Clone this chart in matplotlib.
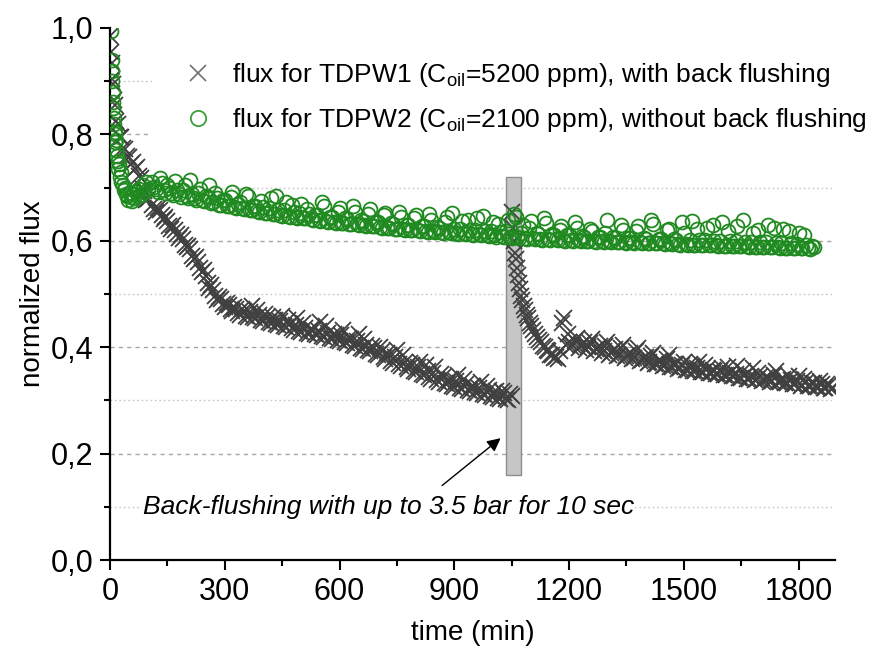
import numpy as np
import matplotlib
matplotlib.use("Agg")
import matplotlib.pyplot as plt
from matplotlib.patches import Rectangle
from matplotlib.lines import Line2D
from matplotlib.ticker import FuncFormatter, MultipleLocator

plt.rcParams['font.family'] = ['Liberation Sans', 'DejaVu Sans']
plt.rcParams['mathtext.default'] = 'regular'

# ---------------- data ----------------
# TDPW1 (with back flushing) - grey crosses
tdpw1_t_early = [0, 2, 4, 6, 8, 10, 13, 16, 20, 25, 30, 35, 40, 45, 50, 55, 60, 65,
                 70, 75, 80, 85, 90, 95, 100]
tdpw1_v_early = [0.985, 0.955, 0.935, 0.905, 0.895, 0.865, 0.855, 0.825, 0.82, 0.795,
                 0.795, 0.775, 0.772, 0.76, 0.758, 0.745, 0.748, 0.735, 0.738, 0.722,
                 0.718, 0.698, 0.694, 0.676, 0.678]
tdpw1_t_before = list(range(110, 1051, 10))
tdpw1_v_before = [0.668, 0.655, 0.658, 0.641, 0.638, 0.622, 0.621, 0.605, 0.603, 0.588,
                  0.584, 0.566, 0.561, 0.541, 0.533, 0.511, 0.508, 0.489, 0.490, 0.476,
                  0.479, 0.468, 0.472, 0.461, 0.468, 0.457, 0.478, 0.455, 0.460, 0.449,
                  0.457, 0.446, 0.452, 0.441, 0.458, 0.438, 0.443, 0.433, 0.455, 0.428,
                  0.436, 0.425, 0.433, 0.422, 0.448, 0.419, 0.427, 0.415, 0.423, 0.411,
                  0.432, 0.407, 0.415, 0.402, 0.425, 0.397, 0.405, 0.392, 0.399, 0.385,
                  0.393, 0.378, 0.386, 0.371, 0.395, 0.365, 0.373, 0.359, 0.366, 0.353,
                  0.372, 0.347, 0.355, 0.341, 0.362, 0.335, 0.344, 0.331, 0.340, 0.326,
                  0.348, 0.322, 0.331, 0.318, 0.327, 0.314, 0.335, 0.310, 0.320, 0.306,
                  0.317, 0.303, 0.314, 0.300, 0.308]
tdpw1_t_before_b = list(range(115, 1046, 10))
tdpw1_v_before_b = [0.660, 0.662, 0.648, 0.645, 0.628, 0.630, 0.612, 0.611, 0.593,
                    0.590, 0.572, 0.569, 0.549, 0.545, 0.520, 0.516, 0.497, 0.494, 0.481,
                    0.484, 0.471, 0.476, 0.464, 0.471, 0.459, 0.466, 0.456, 0.470, 0.452,
                    0.462, 0.447, 0.456, 0.443, 0.450, 0.440, 0.452, 0.436, 0.442, 0.430,
                    0.445, 0.427, 0.435, 0.424, 0.431, 0.421, 0.440, 0.418, 0.425, 0.413,
                    0.422, 0.409, 0.418, 0.404, 0.412, 0.399, 0.415, 0.394, 0.402, 0.388,
                    0.400, 0.381, 0.390, 0.374, 0.382, 0.368, 0.385, 0.362, 0.370, 0.356,
                    0.363, 0.350, 0.366, 0.344, 0.352, 0.338, 0.350, 0.333, 0.338, 0.328,
                    0.336, 0.324, 0.340, 0.320, 0.328, 0.316, 0.324, 0.312, 0.328, 0.308,
                    0.315, 0.305, 0.318, 0.302, 0.312]
tdpw1_t_flush = [1052, 1054, 1056, 1058, 1060, 1063, 1066, 1069, 1072, 1075, 1078, 1081,
                 1085, 1089, 1093, 1097, 1101, 1106, 1111, 1116, 1121, 1126, 1131, 1136,
                 1141, 1146, 1151, 1156, 1161, 1166, 1171, 1176, 1181, 1186, 1191, 1196]
tdpw1_v_flush = [0.655, 0.625, 0.600, 0.578, 0.565, 0.548, 0.535, 0.520, 0.510, 0.497,
                 0.488, 0.478, 0.470, 0.460, 0.455, 0.445, 0.440, 0.433, 0.425, 0.420,
                 0.414, 0.410, 0.403, 0.400, 0.395, 0.392, 0.386, 0.385, 0.380, 0.382,
                 0.378, 0.392, 0.445, 0.455, 0.405, 0.425]
tdpw1_t_after = list(range(1200, 1891, 10))
tdpw1_v_after = [0.410, 0.404, 0.418, 0.405, 0.410, 0.400, 0.415, 0.397, 0.403, 0.393,
                 0.410, 0.390, 0.396, 0.386, 0.405, 0.383, 0.390, 0.379, 0.398, 0.376,
                 0.382, 0.372, 0.390, 0.369, 0.375, 0.366, 0.385, 0.363, 0.369, 0.360,
                 0.372, 0.358, 0.364, 0.355, 0.372, 0.353, 0.359, 0.351, 0.356, 0.349,
                 0.360, 0.347, 0.352, 0.345, 0.364, 0.343, 0.348, 0.341, 0.360, 0.340,
                 0.345, 0.338, 0.343, 0.336, 0.355, 0.334, 0.340, 0.333, 0.338, 0.331,
                 0.345, 0.329, 0.334, 0.327, 0.332, 0.326, 0.330, 0.324, 0.329, 0.323]
tdpw1_t_after_b = list(range(1205, 1886, 10))
tdpw1_v_after_b = [0.400, 0.412, 0.398, 0.404, 0.395, 0.408, 0.392, 0.398, 0.389, 0.402,
                   0.386, 0.394, 0.383, 0.398, 0.380, 0.386, 0.377, 0.392, 0.374, 0.380,
                   0.371, 0.384, 0.368, 0.374, 0.365, 0.378, 0.362, 0.368, 0.359, 0.366,
                   0.357, 0.368, 0.355, 0.360, 0.353, 0.366, 0.351, 0.357, 0.349, 0.355,
                   0.347, 0.362, 0.345, 0.350, 0.343, 0.356, 0.341, 0.346, 0.339, 0.352,
                   0.337, 0.344, 0.335, 0.348, 0.334, 0.339, 0.332, 0.345, 0.330, 0.336,
                   0.328, 0.340, 0.327, 0.333, 0.325, 0.336, 0.324, 0.330, 0.322]

# TDPW2 (without back flushing) - green circles
tdpw2_t_early = [3, 4, 5, 6, 7, 8, 9, 10, 11, 12, 13, 14, 15, 16, 18, 20, 22, 24, 26, 28,
                 30, 33, 36, 39, 42, 45, 48, 51, 54, 57, 60, 64, 68, 72, 76, 80, 85, 90,
                 95, 100]
tdpw2_v_early = [0.995, 0.940, 0.920, 0.900, 0.880, 0.860, 0.850, 0.830, 0.820, 0.805,
                 0.800, 0.785, 0.790, 0.770, 0.760, 0.750, 0.735, 0.745, 0.720, 0.730,
                 0.710, 0.705, 0.695, 0.700, 0.688, 0.685, 0.676, 0.690, 0.682, 0.675,
                 0.688, 0.680, 0.692, 0.684, 0.698, 0.687, 0.705, 0.692, 0.710, 0.698]
tdpw2_t_main = list(range(110, 1841, 10))
tdpw2_v_main = [0.710, 0.698, 0.718, 0.695, 0.705, 0.690, 0.712, 0.688, 0.696, 0.684,
                0.715, 0.680, 0.690, 0.676, 0.685, 0.705, 0.672, 0.680, 0.668, 0.676,
                0.665, 0.692, 0.662, 0.672, 0.660, 0.684, 0.657, 0.666, 0.654, 0.663,
                0.652, 0.680, 0.650, 0.658, 0.647, 0.672, 0.645, 0.654, 0.643, 0.670,
                0.642, 0.650, 0.640, 0.648, 0.638, 0.665, 0.636, 0.645, 0.634, 0.662,
                0.633, 0.641, 0.631, 0.655, 0.630, 0.638, 0.628, 0.660, 0.627, 0.635,
                0.625, 0.652, 0.624, 0.632, 0.622, 0.645, 0.621, 0.630, 0.620, 0.648,
                0.619, 0.627, 0.617, 0.640, 0.616, 0.624, 0.615, 0.644, 0.614, 0.622,
                0.613, 0.637, 0.612, 0.620, 0.611, 0.642, 0.610, 0.618, 0.609, 0.635,
                0.608, 0.617, 0.607, 0.640, 0.606, 0.645, 0.605, 0.630, 0.604, 0.638,
                0.603, 0.612, 0.602, 0.633, 0.602, 0.611, 0.601, 0.628, 0.600, 0.610,
                0.600, 0.625, 0.599, 0.608, 0.599, 0.618, 0.598, 0.607, 0.598, 0.640,
                0.597, 0.606, 0.597, 0.620, 0.596, 0.605, 0.596, 0.628, 0.596, 0.604,
                0.595, 0.632, 0.595, 0.603, 0.594, 0.622, 0.594, 0.602, 0.593, 0.615,
                0.593, 0.638, 0.593, 0.601, 0.592, 0.625, 0.592, 0.600, 0.591, 0.635,
                0.591, 0.599, 0.590, 0.628, 0.590, 0.598, 0.589, 0.615, 0.589, 0.597,
                0.588, 0.630, 0.588, 0.596, 0.587, 0.622, 0.587, 0.595, 0.586, 0.615,
                0.586, 0.592, 0.585, 0.588]
tdpw2_t_main_b = list(range(115, 1836, 10))
tdpw2_v_main_b = [0.702, 0.692, 0.708, 0.689, 0.700, 0.686, 0.695, 0.683, 0.705,
                  0.681, 0.688, 0.677, 0.698, 0.674, 0.682, 0.671, 0.690, 0.668, 0.676,
                  0.666, 0.682, 0.663, 0.670, 0.661, 0.688, 0.658, 0.665, 0.656, 0.675,
                  0.653, 0.662, 0.651, 0.685, 0.649, 0.657, 0.646, 0.668, 0.644, 0.652,
                  0.643, 0.660, 0.641, 0.649, 0.639, 0.672, 0.637, 0.645, 0.636, 0.655,
                  0.634, 0.642, 0.632, 0.665, 0.631, 0.639, 0.629, 0.650, 0.628, 0.636,
                  0.626, 0.648, 0.625, 0.633, 0.623, 0.655, 0.622, 0.630, 0.621, 0.642,
                  0.620, 0.628, 0.619, 0.650, 0.618, 0.626, 0.617, 0.636, 0.616, 0.652,
                  0.615, 0.623, 0.614, 0.640, 0.613, 0.621, 0.612, 0.646, 0.611, 0.619,
                  0.610, 0.632, 0.609, 0.618, 0.608, 0.650, 0.607, 0.615, 0.606, 0.625,
                  0.605, 0.614, 0.604, 0.642, 0.604, 0.612, 0.603, 0.620, 0.602, 0.611,
                  0.602, 0.635, 0.601, 0.609, 0.600, 0.622, 0.600, 0.608, 0.599, 0.615,
                  0.599, 0.607, 0.598, 0.630, 0.598, 0.606, 0.597, 0.618, 0.597, 0.605,
                  0.596, 0.640, 0.596, 0.604, 0.595, 0.620, 0.595, 0.603, 0.594, 0.635,
                  0.594, 0.602, 0.593, 0.622, 0.593, 0.601, 0.592, 0.630, 0.592, 0.600,
                  0.591, 0.618, 0.591, 0.599, 0.590, 0.640, 0.590, 0.598, 0.589, 0.620,
                  0.589, 0.597, 0.588, 0.625, 0.588, 0.596, 0.587, 0.618, 0.587, 0.594,
                  0.586, 0.610, 0.586, 0.590]

label1 = r'flux for TDPW1 (C$_{oil}$=5200 ppm), with back flushing'
label2 = r'flux for TDPW2 (C$_{oil}$=2100 ppm), without back flushing'
annot_text = 'Back-flushing with up to 3.5 bar for 10 sec'

t1 = tdpw1_t_early + tdpw1_t_before + tdpw1_t_before_b + tdpw1_t_flush + tdpw1_t_after + tdpw1_t_after_b
v1 = tdpw1_v_early + tdpw1_v_before + tdpw1_v_before_b + tdpw1_v_flush + tdpw1_v_after + tdpw1_v_after_b
t2 = tdpw2_t_early + tdpw2_t_main + tdpw2_t_main_b
v2 = tdpw2_v_early + tdpw2_v_main + tdpw2_v_main_b

# ---------------- figure ----------------
fig = plt.figure(figsize=(8.74, 6.55), dpi=100)
ax = fig.add_axes([110 / 874, 95 / 655, 725 / 874, 532 / 655])

grey = '#404040'
green = '#1f8a1f'

ax.add_patch(Rectangle((1035, 0.16), 38, 0.56, facecolor='#c6c6c6',
                       edgecolor='#8e8e8e', lw=1.0, zorder=1.5))

ax.plot(t1, v1, linestyle='none', marker='x', ms=11.5, mew=1.3,
        color=grey, zorder=2)
ax.plot(t2, v2, linestyle='none', marker='o', ms=10, mew=1.3,
        mfc='none', mec=green, zorder=3)

ax.set_xlim(0, 1895)
ax.set_ylim(0, 1.0)

ax.xaxis.set_major_locator(MultipleLocator(300))
ax.xaxis.set_minor_locator(MultipleLocator(150))
ax.yaxis.set_major_locator(MultipleLocator(0.2))
ax.yaxis.set_minor_locator(MultipleLocator(0.1))
ax.yaxis.set_major_formatter(FuncFormatter(lambda v, p: f"{v:.1f}".replace('.', ',')))

ax.tick_params(which='major', direction='out', length=7, width=1.5,
               labelsize=22, pad=5, color='black')
ax.tick_params(which='minor', direction='out', length=4, width=1.5, color='black')

for s in ['top', 'right']:
    ax.spines[s].set_visible(False)
for s in ['left', 'bottom']:
    ax.spines[s].set_linewidth(1.6)

# horizontal grid (no line at the top limit)
for gy in [0.2, 0.4, 0.6, 0.8]:
    ax.axhline(gy, linestyle=(0, (3, 3)), color='#a6a6a6', lw=1.0, zorder=0.5)
for gy in [0.1, 0.3, 0.5, 0.7, 0.9]:
    ax.axhline(gy, linestyle=(0, (1.2, 2)), color='#c8c8c8', lw=1.0, zorder=0.5)

# white background behind the legend (hides grid lines there)
ax.add_patch(Rectangle((0.058, 0.775), 0.99, 0.185, transform=ax.transAxes,
                       facecolor='white', edgecolor='none', zorder=1, clip_on=False))

ax.set_xlabel('time (min)', fontsize=20)
ax.set_ylabel('normalized flux', fontsize=20)
ax.xaxis.set_label_coords(0.5, -0.112)
ax.yaxis.set_label_coords(-0.088, 0.5)

lh1 = Line2D([], [], linestyle='none', marker='x', ms=12, mew=1.2, color='#707070')
lh2 = Line2D([], [], linestyle='none', marker='o', ms=11, mew=1.3, mfc='none',
             mec='#3a9e3a')
leg = ax.legend(handles=[lh1, lh2], labels=[label1, label2], loc='upper left',
                bbox_to_anchor=(0.0955, 0.947), fontsize=19, frameon=False,
                borderpad=0.2, handlelength=1.0, handletextpad=0.8,
                labelspacing=0.64, borderaxespad=0)
leg.set_zorder(4)

ax.text(86, 0.10, annot_text, style='italic', fontsize=19, ha='left', va='center',
        bbox=dict(facecolor='white', edgecolor='none', pad=1), zorder=4)
ax.annotate('', xy=(1021, 0.229), xytext=(868, 0.14),
            arrowprops=dict(arrowstyle='-|>', color='black', lw=1.0,
                            mutation_scale=20, shrinkA=0, shrinkB=0), zorder=5)

fig.savefig('out.png', dpi=100)
